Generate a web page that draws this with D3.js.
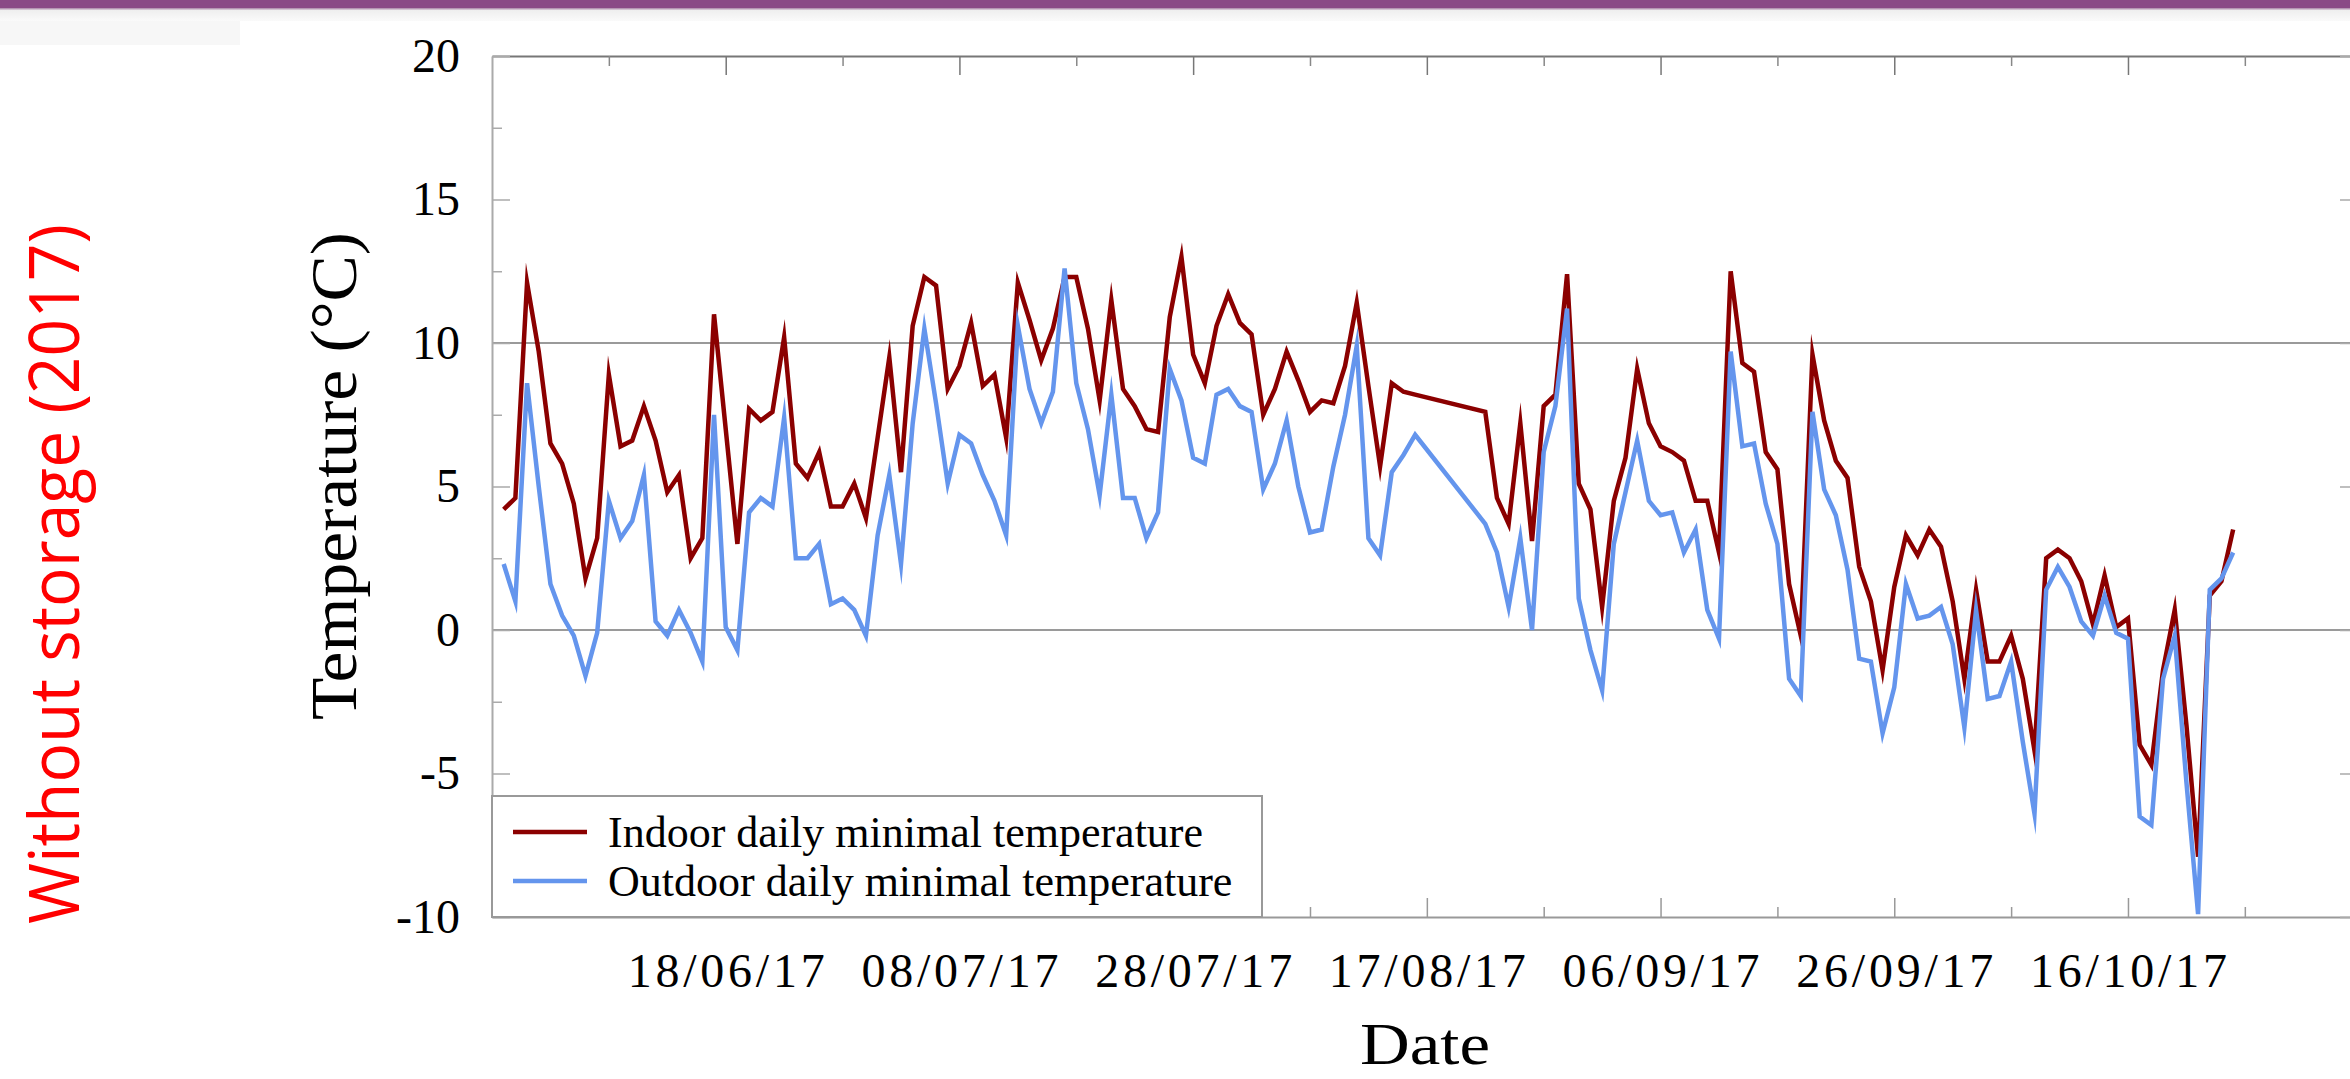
<!DOCTYPE html>
<html><head><meta charset="utf-8">
<script src="https://cdn.jsdelivr.net/npm/d3@7"></script>
<style>body{margin:0;background:#fff;} svg{display:block}</style>
</head><body>
<svg id="c" width="2350" height="1079"></svg>
<script>
const dates = [
"2017-05-30","2017-05-31",
"2017-06-01","2017-06-02","2017-06-03","2017-06-04","2017-06-05","2017-06-06","2017-06-07","2017-06-08","2017-06-09","2017-06-10",
"2017-06-11","2017-06-12","2017-06-13","2017-06-14","2017-06-15","2017-06-16","2017-06-17","2017-06-18","2017-06-19","2017-06-20",
"2017-06-21","2017-06-22","2017-06-23","2017-06-24","2017-06-25","2017-06-26","2017-06-27","2017-06-28","2017-06-29","2017-06-30",
"2017-07-01","2017-07-02","2017-07-03","2017-07-04","2017-07-05","2017-07-06","2017-07-07","2017-07-08","2017-07-09","2017-07-10",
"2017-07-11","2017-07-12","2017-07-13","2017-07-14","2017-07-15","2017-07-16","2017-07-17","2017-07-18","2017-07-19","2017-07-20",
"2017-07-21","2017-07-22","2017-07-23","2017-07-24","2017-07-25","2017-07-26","2017-07-27","2017-07-28","2017-07-29","2017-07-30","2017-07-31",
"2017-08-01","2017-08-02","2017-08-03","2017-08-04","2017-08-05","2017-08-06","2017-08-07","2017-08-08","2017-08-09","2017-08-10",
"2017-08-11","2017-08-12","2017-08-13","2017-08-14","2017-08-15","2017-08-16",
"2017-08-22","2017-08-23","2017-08-24","2017-08-25","2017-08-26","2017-08-27","2017-08-28","2017-08-29","2017-08-30","2017-08-31",
"2017-09-01","2017-09-02","2017-09-03","2017-09-04","2017-09-05","2017-09-06","2017-09-07","2017-09-08","2017-09-09","2017-09-10",
"2017-09-11","2017-09-12","2017-09-13","2017-09-14","2017-09-15","2017-09-16","2017-09-17","2017-09-18","2017-09-19","2017-09-20",
"2017-09-21","2017-09-22","2017-09-23","2017-09-24","2017-09-25","2017-09-26","2017-09-27","2017-09-28","2017-09-29","2017-09-30",
"2017-10-01","2017-10-02","2017-10-03","2017-10-04","2017-10-05","2017-10-06","2017-10-07","2017-10-08","2017-10-09","2017-10-10",
"2017-10-11","2017-10-12","2017-10-13","2017-10-14","2017-10-15","2017-10-16","2017-10-17","2017-10-18","2017-10-19","2017-10-20",
"2017-10-21","2017-10-22","2017-10-23","2017-10-24","2017-10-25"
];
const indoor = [
4.2, 4.6,
12.1, 9.7, 6.5, 5.8, 4.4, 1.8, 3.2, 8.9, 6.4, 6.6,
7.8, 6.6, 4.8, 5.4, 2.5, 3.2, 11.0, 7.0, 3.0, 7.7,
7.3, 7.6, 10.2, 5.8, 5.3, 6.2, 4.3, 4.3, 5.1, 3.9,
6.7, 9.5, 5.5, 10.6, 12.3, 12.0, 8.4, 9.2, 10.7, 8.5,
8.9, 6.7, 12.1, 10.8, 9.4, 10.5, 12.3, 12.3, 10.5, 8.0,
11.5, 8.4, 7.8, 7.0, 6.9, 10.9, 13.0, 9.6, 8.6, 10.6, 11.7,
10.7, 10.3, 7.5, 8.4, 9.7, 8.7, 7.6, 8.0, 7.9, 9.2,
11.4, 8.5, 5.7, 8.6, 8.3, 8.2,
7.6, 4.6, 3.7, 7.2, 3.1, 7.8, 8.2, 12.4, 5.1, 4.2,
0.8, 4.5, 6.0, 9.1, 7.2, 6.4, 6.2, 5.9, 4.5, 4.5,
2.7, 12.5, 9.3, 9.0, 6.2, 5.6, 1.6, -0.2, 9.6, 7.3,
5.9, 5.3, 2.2, 1.0, -1.4, 1.5, 3.3, 2.6, 3.5, 2.9,
1.0, -1.7, 1.4, -1.1, -1.1, -0.2, -1.7, -4.2, 2.5, 2.8,
2.5, 1.7, 0.2, 1.9, 0.1, 0.4, -4.0, -4.7, -1.4, 0.7,
-3.3, -7.9, 1.2, 1.7, 3.5
];
const outdoor = [
2.3, 1.0,
8.6, 5.0, 1.6, 0.5, -0.2, -1.6, -0.1, 4.5, 3.2, 3.8,
5.4, 0.3, -0.2, 0.7, -0.1, -1.1, 7.5, 0.1, -0.7, 4.1,
4.6, 4.3, 7.4, 2.5, 2.5, 3.0, 0.9, 1.1, 0.7, -0.2,
3.3, 5.4, 2.3, 7.2, 10.5, 7.9, 5.1, 6.8, 6.5, 5.4,
4.5, 3.3, 10.6, 8.4, 7.2, 8.3, 12.6, 8.6, 7.0, 4.7,
8.2, 4.6, 4.6, 3.2, 4.1, 9.1, 8.0, 6.0, 5.8, 8.2, 8.4,
7.8, 7.6, 4.9, 5.8, 7.3, 5.0, 3.4, 3.5, 5.7, 7.5,
9.9, 3.2, 2.6, 5.5, 6.1, 6.8,
3.7, 2.7, 0.8, 3.2, 0.0, 6.2, 7.8, 11.2, 1.1, -0.7,
-2.1, 3.0, 4.8, 6.6, 4.5, 4.0, 4.1, 2.7, 3.5, 0.7,
-0.3, 9.7, 6.4, 6.5, 4.4, 3.0, -1.7, -2.3, 7.6, 4.9,
4.0, 2.1, -1.0, -1.1, -3.6, -2.0, 1.6, 0.4, 0.5, 0.8,
-0.5, -3.4, 0.7, -2.4, -2.3, -1.1, -3.9, -6.4, 1.4, 2.2,
1.5, 0.3, -0.2, 1.2, -0.1, -0.3, -6.5, -6.8, -1.7, -0.2,
-5.3, -9.9, 1.4, 1.8, 2.7
];
const xDomain = ["2017-05-29", "2017-11-04"];
const xMajorTicks = ["2017-06-18","2017-07-08","2017-07-28","2017-08-17","2017-09-06","2017-09-26","2017-10-16"];
const xTickLabels = ["18/06/17","08/07/17","28/07/17","17/08/17","06/09/17","26/09/17","16/10/17"];
const xMinorTicks = ["2017-06-08","2017-06-28","2017-07-18","2017-08-07","2017-08-27","2017-09-16","2017-10-06","2017-10-26"];
const yDomain = [-10, 20];
const yMajorTicks = [-10, -5, 0, 5, 10, 15, 20];
const yTickLabels = ["-10", "-5", "0", "5", "10", "15", "20"];
const yMinorTicks = [-7.5, -2.5, 2.5, 7.5, 12.5, 17.5];
const gridValues = [0, 10];
const seriesNames = ["Indoor daily minimal temperature", "Outdoor daily minimal temperature"];
const seriesColors = ["#8b0000", "#6495ed"];
const xTitle = "Date";
const yTitle = "Temperature (\u00B0C)";
const sideLabel = "Without storage (2017)";

const parse = d3.timeParse("%Y-%m-%d");
const W = 2350, H = 1079;
const m = {left: 492, right: 2350, top: 56, bottom: 917};
const svg = d3.select("#c");
const serif = "'Liberation Serif','DejaVu Serif',serif";

// top banner
const defs = svg.append("defs");
const grad = defs.append("linearGradient").attr("id","bandGrad").attr("x1",0).attr("x2",0).attr("y1",0).attr("y2",1);
grad.append("stop").attr("offset","0%").attr("stop-color","#ececec");
grad.append("stop").attr("offset","100%").attr("stop-color","#fafafa");
svg.append("rect").attr("x",0).attr("y",8).attr("width",W).attr("height",13).attr("fill","url(#bandGrad)");
svg.append("rect").attr("x",0).attr("y",21).attr("width",240).attr("height",24).attr("fill","#f7f7f7");
svg.append("rect").attr("x",0).attr("y",0).attr("width",W).attr("height",8).attr("fill","#8a4a86");
svg.append("rect").attr("x",0).attr("y",8).attr("width",W).attr("height",1.5).attr("fill","#b596b3");

const x = d3.scaleTime().domain(xDomain.map(parse)).range([m.left, m.right]);
const y = d3.scaleLinear().domain(yDomain).range([m.bottom, m.top]);

// gridlines
svg.append("g").selectAll("line").data(gridValues).join("line")
  .attr("x1", m.left).attr("x2", m.right)
  .attr("y1", d => y(d)).attr("y2", d => y(d))
  .attr("stroke", "#9a9a9a").attr("stroke-width", 2);

const axisColor = "#999";
function styleAxis(g, color) {
  g.selectAll("line").attr("stroke", color).attr("stroke-width", 1.5);
  g.select(".domain").attr("stroke", color).attr("stroke-width", 2);
}

// bottom axis
const gB = svg.append("g").attr("transform", `translate(0,${m.bottom})`)
  .call(d3.axisBottom(x).tickValues(xMajorTicks.map(parse)).tickSize(-19).tickSizeOuter(0).tickPadding(36)
    .tickFormat((d, i) => xTickLabels[i]));
styleAxis(gB, axisColor);
gB.selectAll("text").attr("font-family", serif).attr("font-size", 48).attr("fill", "#000")
  .attr("textLength", 197);
svg.append("g").attr("transform", `translate(0,${m.bottom})`)
  .call(d3.axisBottom(x).tickValues(xMinorTicks.map(parse)).tickSize(-10).tickSizeOuter(0).tickFormat(""))
  .call(g => { styleAxis(g, axisColor); g.select(".domain").remove(); });

// top axis
const gT = svg.append("g").attr("transform", `translate(0,${m.top})`)
  .call(d3.axisTop(x).tickValues(xMajorTicks.map(parse)).tickSize(-19).tickSizeOuter(0).tickFormat(""));
styleAxis(gT, "#777");
svg.append("g").attr("transform", `translate(0,${m.top})`)
  .call(d3.axisTop(x).tickValues(xMinorTicks.map(parse)).tickSize(-10).tickSizeOuter(0).tickFormat(""))
  .call(g => { styleAxis(g, "#888"); g.select(".domain").remove(); });

// left axis
const gL = svg.append("g").attr("transform", `translate(${m.left},0)`)
  .call(d3.axisLeft(y).tickValues(yMajorTicks).tickSize(-18).tickSizeOuter(0).tickPadding(32)
    .tickFormat((d, i) => yTickLabels[i]));
styleAxis(gL, "#aaa");
gL.selectAll("text").attr("font-family", serif).attr("font-size", 48).attr("fill", "#000");
svg.append("g").attr("transform", `translate(${m.left},0)`)
  .call(d3.axisLeft(y).tickValues(yMinorTicks).tickSize(-10).tickSizeOuter(0).tickFormat(""))
  .call(g => { styleAxis(g, "#aaa"); g.select(".domain").remove(); });

// right axis ticks
svg.append("g").attr("transform", `translate(${m.right},0)`)
  .call(d3.axisRight(y).tickValues(yMajorTicks).tickSize(-10).tickSizeOuter(0).tickFormat(""))
  .call(g => { styleAxis(g, "#aaa"); g.select(".domain").remove(); });

// lines
const rows = dates.map((d, i) => ({date: parse(d), v: [indoor[i], outdoor[i]]}));
const plot = svg.append("g");
[0, 1].forEach(k => {
  plot.append("path").datum(rows)
    .attr("fill", "none").attr("stroke", seriesColors[k]).attr("stroke-width", 4.5)
    .attr("stroke-linejoin", "miter").attr("stroke-miterlimit", 10)
    .attr("d", d3.line().x(r => x(r.date)).y(r => y(r.v[k])));
});

// legend
const lg = svg.append("g");
lg.append("rect").attr("x", m.left).attr("y", 796).attr("width", 770).attr("height", m.bottom - 796)
  .attr("fill", "#fff").attr("stroke", "#999").attr("stroke-width", 2);
const legendRowsY = [832, 881];
seriesNames.forEach((name, k) => {
  lg.append("line").attr("x1", 513).attr("x2", 587).attr("y1", legendRowsY[k]).attr("y2", legendRowsY[k])
    .attr("stroke", seriesColors[k]).attr("stroke-width", 4.5);
  lg.append("text").attr("x", 608).attr("y", legendRowsY[k] + 15)
    .attr("font-family", serif).attr("font-size", 44).attr("fill", "#000").text(name);
});

// titles
svg.append("text").attr("x", (m.left + m.right) / 2 + 4).attr("y", 1064)
  .attr("text-anchor", "middle").attr("font-family", serif).attr("font-size", 60)
  .attr("textLength", 130).attr("lengthAdjust", "spacingAndGlyphs").text(xTitle);
svg.append("text").attr("transform", "translate(356,476) rotate(-90)")
  .attr("text-anchor", "middle").attr("font-family", serif).attr("font-size", 66)
  .attr("textLength", 488).attr("lengthAdjust", "spacingAndGlyphs").text(yTitle);
svg.append("text").attr("transform", "translate(79,574) rotate(-90)")
  .attr("text-anchor", "middle").attr("font-family", "'Open Sans','Noto Sans',sans-serif").attr("font-size", 70)
  .attr("fill", "#ff0000").attr("textLength", 700).attr("lengthAdjust", "spacingAndGlyphs").text(sideLabel);
</script>
</body></html>
